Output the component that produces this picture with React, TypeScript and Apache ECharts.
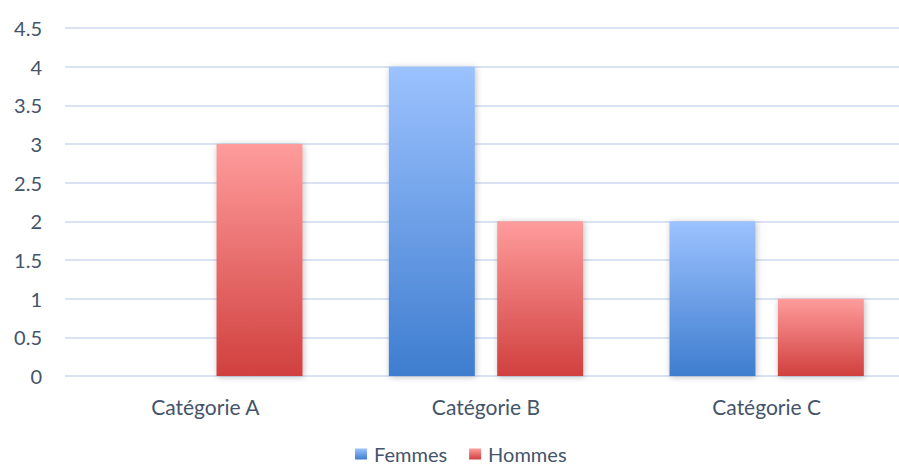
import React, { useEffect, useRef } from "react";
import * as echarts from "echarts";

const categories = ["Catégorie A", "Catégorie B", "Catégorie C"];
const femmes = [0, 4, 2];
const hommes = [3, 2, 1];
const seriesNames = ["Femmes", "Hommes"];

export default function App() {
  const ref = useRef<HTMLDivElement>(null);
  useEffect(() => {
    if (!ref.current) return;
    const chart = echarts.init(ref.current, null, { renderer: "svg" });
    const font = "Lato, 'Open Sans', sans-serif";
    const labelColor = "#44546A";
    const grad = (top: string, bottom: string) =>
      new echarts.graphic.LinearGradient(0, 0, 0, 1, [
        { offset: 0, color: top },
        { offset: 1, color: bottom },
      ]);
    chart.setOption({
      animation: false,
      backgroundColor: "#ffffff",
      grid: { left: 65, top: 28, width: 842, height: 348, containLabel: false },
      legend: {
        data: seriesNames,
        top: 444,
        left: 355,
        padding: 0,
        itemWidth: 12,
        itemHeight: 11,
        itemGap: 22,
        icon: "rect",
        textStyle: {
          color: labelColor,
          fontSize: 20,
          lineHeight: 20,
          fontFamily: font,
          padding: [0, 0, 0, 2],
        },
      },
      xAxis: {
        type: "category",
        data: categories,
        axisLine: { show: false },
        axisTick: { show: false },
        axisLabel: { color: labelColor, fontSize: 21, fontFamily: font, margin: 20 },
      },
      yAxis: {
        type: "value",
        min: 0,
        max: 4.5,
        interval: 0.5,
        axisLine: { show: false },
        axisTick: { show: false },
        axisLabel: { color: labelColor, fontSize: 20, fontFamily: font, margin: 23 },
        splitLine: { lineStyle: { color: "#D9E3F3", width: 2 } },
      },
      series: [
        {
          name: seriesNames[0],
          type: "bar",
          data: femmes,
          barWidth: 86,
          barGap: "26%",
          itemStyle: {
            color: grad("#9CC2FF", "#3E7DCF"),
            shadowColor: "rgba(0,0,0,0.25)",
            shadowBlur: 6,
            shadowOffsetX: 1,
            shadowOffsetY: 1,
          },
        },
        {
          name: seriesNames[1],
          type: "bar",
          data: hommes,
          barWidth: 86,
          itemStyle: {
            color: grad("#FF9C9C", "#D0403E"),
            shadowColor: "rgba(0,0,0,0.25)",
            shadowBlur: 6,
            shadowOffsetX: 1,
            shadowOffsetY: 1,
          },
        },
      ],
    });
    return () => chart.dispose();
  }, []);
  return (
    <div
      style={{
        position: "fixed",
        left: 0,
        top: 0,
        width: 899,
        height: 468,
        overflow: "hidden",
        background: "#fff",
      }}
    >
      <div ref={ref} style={{ width: 915, height: 468 }} />
    </div>
  );
}
